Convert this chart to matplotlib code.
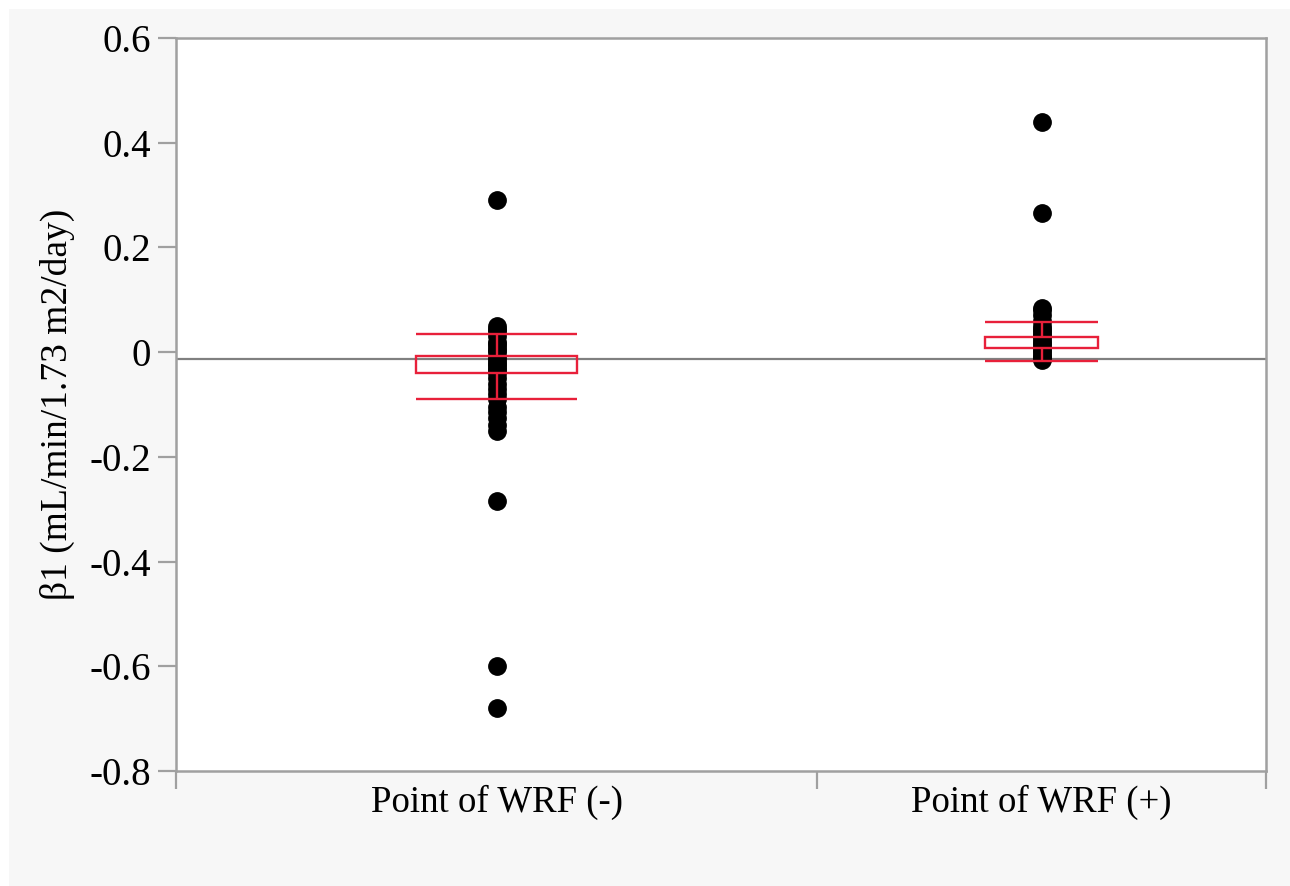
import matplotlib
matplotlib.use("Agg")
from matplotlib import pyplot as plt
from matplotlib.patches import Rectangle
import numpy as np

# category labels
groups = ["Point of WRF (-)", "Point of WRF (+)"]

# beta1 values
wrf_neg = [0.29, 0.05, 0.045, 0.04, 0.03, 0.02, 0.015, 0.01, 0.005, 0.0,
           -0.01, -0.015, -0.02, -0.025, -0.03, -0.035, -0.04,
           -0.05, -0.06, -0.07, -0.08, -0.09, -0.105, -0.115, -0.125,
           -0.14, -0.15, -0.285, -0.6, -0.68]
wrf_pos = [0.44, 0.265, 0.085, 0.08, 0.07, 0.06, 0.05, 0.045, 0.04, 0.035,
           0.03, 0.025, 0.02, 0.015, 0.01, 0.005, 0.0, -0.005, -0.01,
           -0.012, -0.015]

# red summary marks: outer lines and box edges per group
line_hi = [0.034, 0.057]
box_hi = [-0.007, 0.029]
box_lo = [-0.040, 0.008]
line_lo = [-0.090, -0.017]
grand_line = -0.013

yticks = [0.6, 0.4, 0.2, 0, -0.2, -0.4, -0.6, -0.8]
ytick_labels = ["0.6", "0.4", "0.2", "0", "-0.2", "-0.4", "-0.6", "-0.8"]

plt.rcParams['font.family'] = ['Liberation Serif', 'DejaVu Serif']

fig = plt.figure(figsize=(12.9, 8.86), dpi=100, facecolor="white")
fig.patches.append(Rectangle((9 / 1290, 0), 1, 1 - 9 / 886, transform=fig.transFigure,
                             facecolor="#f7f7f7", edgecolor="none", zorder=-10))
ax = fig.add_axes([176 / 1290, 1 - 771 / 886, (1266 - 176) / 1290, (771 - 38) / 886])
ax.set_facecolor("white")

data = [wrf_neg, wrf_pos]
sizes = np.array([len(d) for d in data], dtype=float)
edges = np.concatenate([[0], np.cumsum(sizes)])
centers = (edges[:-1] + edges[1:]) / 2
red = "#e8203a"

ax.axhline(grand_line, color="#808080", lw=1.6, zorder=1)

for i, vals in enumerate(data):
    c = centers[i]
    hw = 0.125 * sizes[i]
    ax.plot([c] * len(vals), vals, "o", color="black", ms=12.5, zorder=2)
    ax.hlines([line_hi[i], line_lo[i]], c - hw, c + hw, color=red, lw=1.7, zorder=3)
    ax.add_patch(Rectangle((c - hw, box_lo[i]), 2 * hw, box_hi[i] - box_lo[i],
                           facecolor="none", edgecolor=red, lw=1.7, zorder=3))
    ax.vlines(c, box_hi[i], line_hi[i], color=red, lw=1.7, zorder=3)
    ax.vlines(c, line_lo[i], box_lo[i], color=red, lw=1.7, zorder=3)

ax.set_xlim(edges[0], edges[-1])
ax.set_ylim(-0.8, 0.6)
ax.set_yticks(yticks)
ax.set_yticklabels(ytick_labels, fontsize=28)
ax.set_xticks(centers)
ax.set_xticklabels(groups, fontsize=26.5)
ax.set_xticks(edges, minor=True)
ax.tick_params(axis="x", which="major", length=0, pad=10)
ax.tick_params(axis="x", which="minor", length=13, width=1.6, color="#a0a0a0")
ax.tick_params(axis="y", length=13, width=1.6, color="#a0a0a0", pad=5)

for sp in ax.spines.values():
    sp.set_color("#a0a0a0")
    sp.set_linewidth(1.8)

ax.set_ylabel("β1 (mL/min/1.73 m2/day)", fontsize=27, labelpad=10)

fig.savefig("out.png", dpi=100)
